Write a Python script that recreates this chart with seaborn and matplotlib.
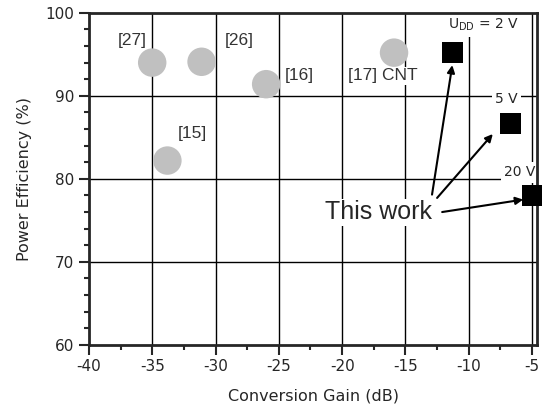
import matplotlib
matplotlib.use("Agg")
import matplotlib.pyplot as plt
import seaborn as sns
import pandas as pd
from matplotlib.ticker import MultipleLocator

# literature points
ref_gain = [-35.0, -31.1, -26.0, -33.8, -15.9]
ref_eff = [94.0, 94.1, 91.4, 82.2, 95.2]

# this work
work_gain = [-11.3, -6.7, -5.0]
work_eff = [95.2, 86.7, 78.0]
work_labels = ["U$_{\\rm DD}$ = 2 V", "5 V", "20 V"]

sns.set_style("ticks")
plt.rcParams['font.family'] = ['DejaVu Sans']
plt.rcParams['axes.unicode_minus'] = False

fig = plt.figure(figsize=(5.42, 4.13), dpi=100)
ax = fig.add_axes([0.164, 0.165, 0.827, 0.804])

ref = pd.DataFrame({"gain": ref_gain, "eff": ref_eff})
work = pd.DataFrame({"gain": work_gain, "eff": work_eff})

for v in [-35, -30, -25, -20, -15, -10, -5]:
    ax.axvline(v, color="black", lw=1, zorder=0)
for h in [70, 80, 90]:
    ax.axhline(h, color="black", lw=1, zorder=0)

sns.scatterplot(data=ref, x="gain", y="eff", ax=ax, color="#c0c0c0", s=420,
                marker="o", edgecolor="none", zorder=3)
sns.scatterplot(data=work, x="gain", y="eff", ax=ax, color="black", s=220,
                marker="s", edgecolor="none", zorder=4, clip_on=False)

box = dict(facecolor="white", edgecolor="none", pad=1)
txt_kw = dict(fontsize=12.5, color="#333333", zorder=2, va="center",
              family="Liberation Sans")
ax.text(-37.7, 96.7, "[27]", **txt_kw)
ax.text(-29.3, 96.7, "[26]", **txt_kw)
ax.text(-24.5, 92.4, "[16]", **txt_kw)
ax.text(-33.0, 85.5, "[15]", **txt_kw)
ax.text(-19.5, 92.4, "[17] CNT", bbox=box, **txt_kw)

lab_kw = dict(fontsize=10, va="center", bbox=dict(facecolor="white", edgecolor="none", pad=2.5),
              zorder=2)
ax.text(-11.6, 98.5, work_labels[0], **lab_kw)
ax.text(-7.9, 89.6, work_labels[1], **lab_kw)
ax.text(-7.2, 80.8, work_labels[2], **lab_kw)

ax.text(-17.1, 76.0, "This work", fontsize=18, ha="center", va="center",
        bbox=box, zorder=5, family="Liberation Sans")
arrow = dict(arrowstyle="-|>", color="black", lw=1.5, mutation_scale=11,
             shrinkA=0, shrinkB=0)
ax.annotate("", xy=(-11.3, 93.7), xytext=(-12.9, 78.1), arrowprops=arrow, zorder=5)
ax.annotate("", xy=(-8.1, 85.4), xytext=(-12.5, 77.7), arrowprops=arrow, zorder=5)
ax.annotate("", xy=(-5.7, 77.5), xytext=(-12.1, 76.0), arrowprops=arrow, zorder=5)

ax.set_xlim(-40, -4.6)
ax.set_ylim(60, 100)
ax.xaxis.set_major_locator(MultipleLocator(5))
ax.xaxis.set_minor_locator(MultipleLocator(2.5))
ax.yaxis.set_major_locator(MultipleLocator(10))
ax.yaxis.set_minor_locator(MultipleLocator(2))
ax.tick_params(which="major", length=7, width=1.5, labelsize=11)
ax.tick_params(which="minor", length=3.5, width=1.5)
for s in ax.spines.values():
    s.set_linewidth(2)
    s.set_visible(True)

ax.set_xlabel("Conversion Gain (dB)", fontsize=11.5, labelpad=10)
ax.set_ylabel("Power Efficiency (%)", fontsize=11.5, labelpad=10)

fig.savefig("out.png", dpi=100)
